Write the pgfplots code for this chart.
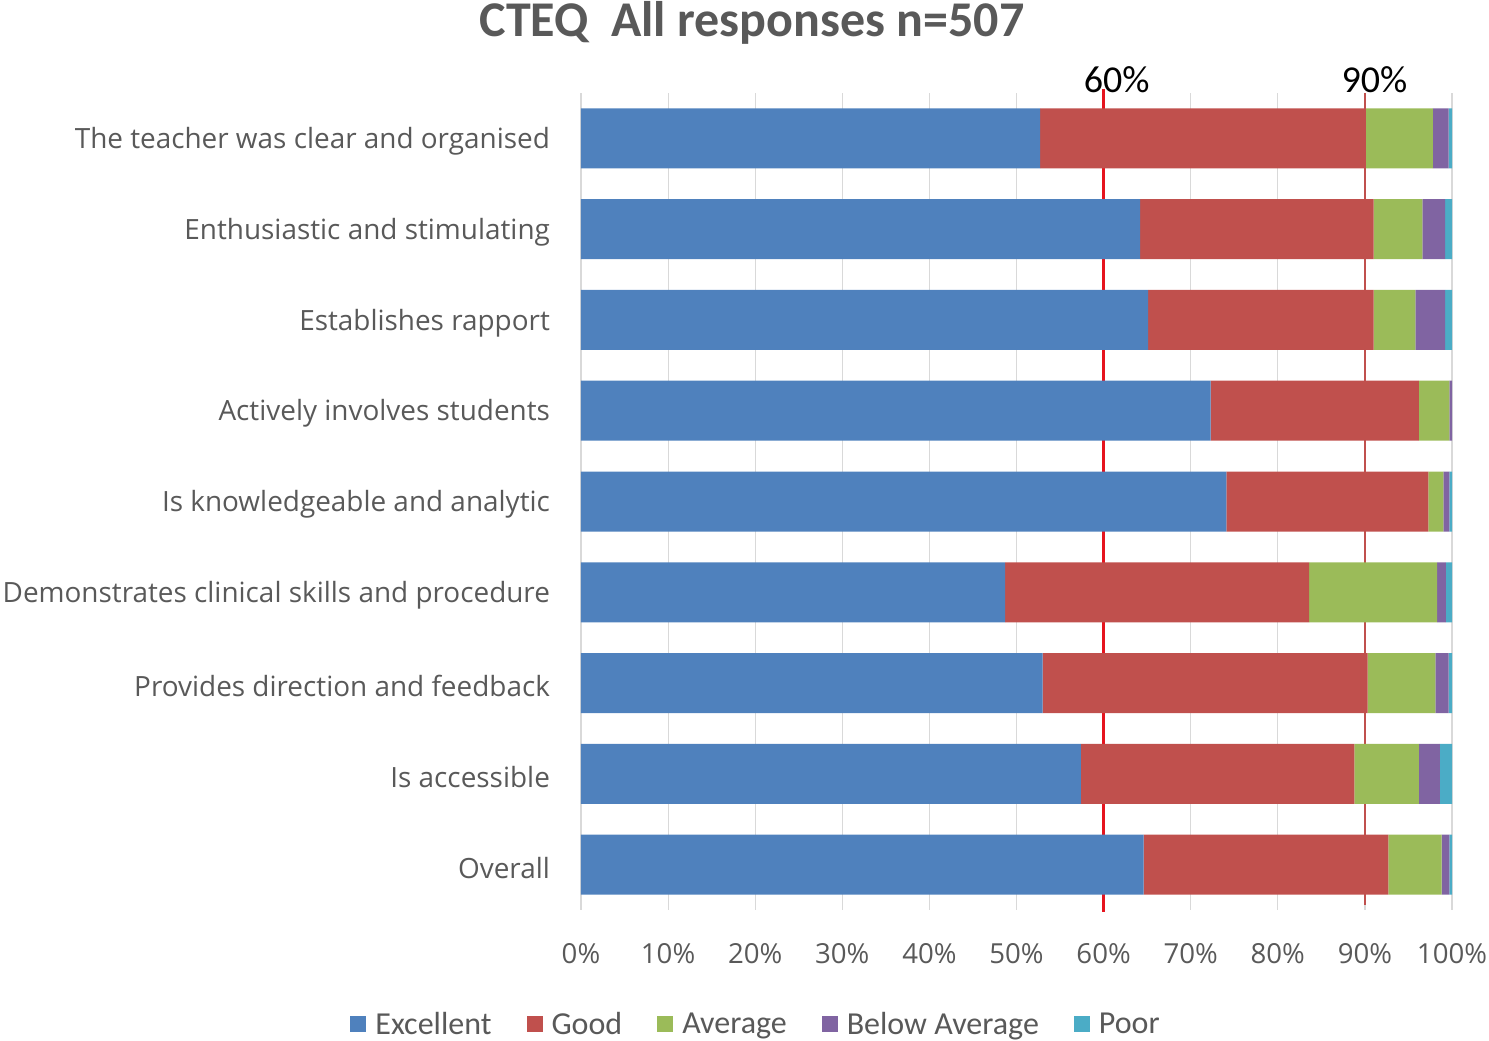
\documentclass[border=0pt]{standalone}
\usepackage{pgfplots}
\pgfplotsset{compat=1.18}
\usepackage{fontspec}
\setmainfont{Open Sans}
\newfontfamily\calibri{Carlito}
\definecolor{txt}{HTML}{595959}
\definecolor{cExc}{HTML}{4F81BD}
\definecolor{cGood}{HTML}{C0504D}
\definecolor{cAvg}{HTML}{9BBB59}
\definecolor{cBel}{HTML}{8064A2}
\definecolor{cPoor}{HTML}{4BACC6}
\definecolor{gridc}{HTML}{D9D9D9}
\begin{document}
\begin{tikzpicture}
\begin{axis}[
  at={(290.5pt,65pt)}, anchor=south west,
  scale only axis, width=435.5pt, height=408.5pt,
  xbar stacked, bar width=30pt,
  xmin=0, xmax=100, ymin=-0.5, ymax=8.5, y dir=reverse,
  xtick={0,10,...,100},
  xticklabels={0\%,10\%,20\%,30\%,40\%,50\%,60\%,70\%,80\%,90\%,100\%},
  ytick={0,...,8},
  yticklabels={The teacher was clear and organised,Enthusiastic and stimulating,Establishes rapport,Actively involves students,Is knowledgeable and analytic,Demonstrates clinical skills and procedure,Provides direction and feedback,Is accessible,Overall},
  axis line style={draw=none},
  major tick length=0pt,
  xmajorgrids, grid style={draw=gridc, line width=0.6pt},
  ticklabel style={font=\fontsize{13.8}{16}\selectfont, text=txt},
  xticklabel style={yshift=-13pt},
  yticklabel style={xshift=-12pt, yshift=-1.5pt, font=\fontsize{13.95}{16}\selectfont},
  clip=false,
  legend columns=5,
  legend style={at={(0.205,-0.14)}, anchor=center, draw=none, fill=none,
    font=\calibri\fontsize{16}{19}\selectfont, text=txt,
    /tikz/every even column/.append style={column sep=13pt},
    nodes={inner xsep=4.5pt}},
  legend image code/.code={\fill[#1] (0pt,-4pt) rectangle (8pt,4pt);},
]
\addplot[fill=cExc, draw=none] coordinates {(52.7,0) (64.2,1) (65.1,2) (72.3,3) (74.1,4) (48.7,5) (53.0,6) (57.4,7) (64.6,8)};
\addplot[fill=cGood, draw=none] coordinates {(37.4,0) (26.8,1) (25.9,2) (23.9,3) (23.2,4) (34.9,5) (37.3,6) (31.4,7) (28.1,8)};
\addplot[fill=cAvg, draw=none] coordinates {(7.7,0) (5.6,1) (4.8,2) (3.5,3) (1.7,4) (14.7,5) (7.8,6) (7.4,7) (6.1,8)};
\addplot[fill=cBel, draw=none] coordinates {(1.8,0) (2.6,1) (3.4,2) (0.3,3) (0.7,4) (1.0,5) (1.5,6) (2.4,7) (0.9,8)};
\addplot[fill=cPoor, draw=none] coordinates {(0.4,0) (0.8,1) (0.8,2) (0.0,3) (0.3,4) (0.7,5) (0.4,6) (1.4,7) (0.3,8)};
\legend{Excellent,Good,Average,Below Average,Poor}
\draw[color={rgb,255:red,230;green,20;blue,30}, line width=1.5pt] (axis cs:60,-0.54) -- (axis cs:60,8.52);
\draw[color=cGood, line width=1pt] (axis cs:90,-0.5) -- (axis cs:90,8.45);
\node[font=\calibri\fontsize{19}{22}\selectfont, anchor=base, text=black] at (axis cs:61.5,-0.503) {60\%};
\node[font=\calibri\fontsize{19}{22}\selectfont, anchor=base, text=black] at (axis cs:91.1,-0.503) {90\%};
\end{axis}
\node[font=\calibri\bfseries\fontsize{25}{30}\selectfont, text=txt, anchor=base] at (376pt,501.5pt) {CTEQ\ \ All responses n=507};
\pgfresetboundingbox
\path (0,0) rectangle (744.5pt,520pt);
\end{tikzpicture}
\end{document}
